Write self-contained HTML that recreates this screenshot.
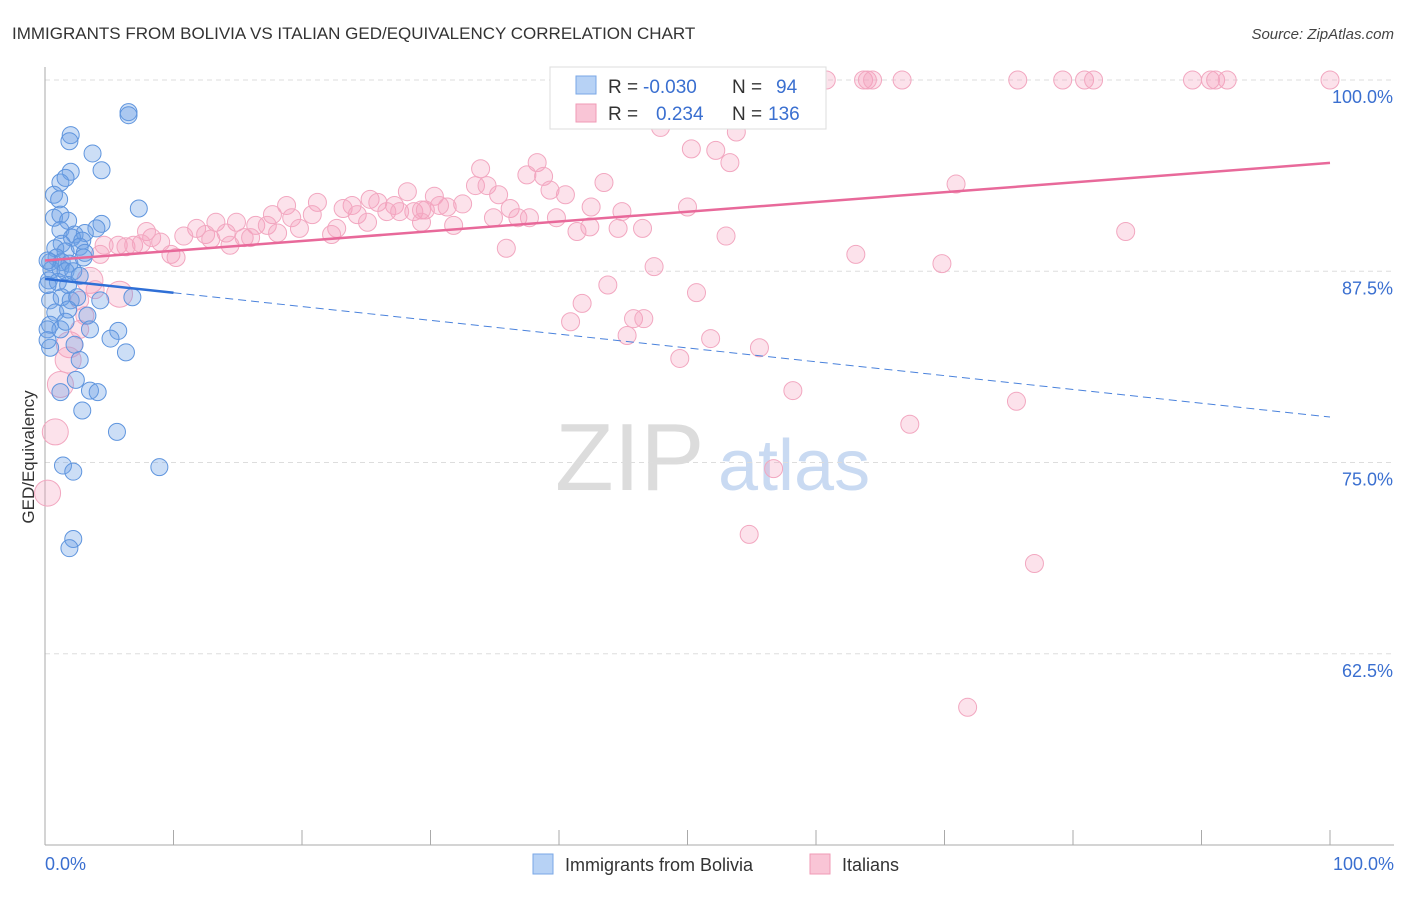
<!DOCTYPE html>
<html><head><meta charset="utf-8"><style>
body{margin:0;background:#fff;font-family:"Liberation Sans",sans-serif}
svg text{font-family:"Liberation Sans",sans-serif}
</style></head><body>
<svg id="chart" width="1406" height="892" viewBox="0 0 1406 892" xmlns="http://www.w3.org/2000/svg">
<text x="12" y="39" font-size="17" fill="#333">IMMIGRANTS FROM BOLIVIA VS ITALIAN GED/EQUIVALENCY CORRELATION CHART</text>
<text x="1394" y="39" font-size="15" fill="#444" text-anchor="end" font-style="italic">Source: ZipAtlas.com</text>
<g>
<text x="555" y="490" font-size="96" fill="#dcdcdc" font-family="Liberation Serif, serif">ZIP</text>
<text x="718" y="490" font-size="72" fill="#c9daf2">atlas</text>
</g>
<g id="grid"></g>
<g id="axes"></g>
<g id="points"></g>
<g id="lines"></g>
<text transform="translate(34,457) rotate(-90)" font-size="17" fill="#333" text-anchor="middle">GED/Equivalency</text>
<g>
<rect x="550" y="67" width="276" height="62" fill="#fff" stroke="#ddd"/>
<rect x="576" y="76" width="20" height="18" fill="#b7d2f5" stroke="#7aa7e6"/>
<rect x="576" y="104" width="20" height="18" fill="#f9c5d6" stroke="#f09ab6"/>
<text x="608" y="93" font-size="19" fill="#333">R =</text>
<text x="643" y="93" font-size="19" fill="#3a6fd0">-0.030</text>
<text x="732" y="93" font-size="19" fill="#333">N =</text>
<text x="776" y="93" font-size="19" fill="#3a6fd0">94</text>
<text x="608" y="120" font-size="19" fill="#333">R =</text>
<text x="656" y="120" font-size="19" fill="#3a6fd0">0.234</text>
<text x="732" y="120" font-size="19" fill="#333">N =</text>
<text x="768" y="120" font-size="19" fill="#3a6fd0">136</text>
</g>
<g>
<rect x="533" y="854" width="20" height="20" fill="#b7d2f5" stroke="#7aa7e6"/>
<text x="565" y="871" font-size="18" fill="#333">Immigrants from Bolivia</text>
<rect x="810" y="854" width="20" height="20" fill="#f9c5d6" stroke="#f09ab6"/>
<text x="842" y="871" font-size="18" fill="#333">Italians</text>
</g>
</svg>
<script>
const yTicks=[100,87.5,75,62.5];
const yTickLabels=["100.0%","87.5%","75.0%","62.5%"];
const xTickLabels=["0.0%","100.0%"];
const blueX=[6.5,6.5,2.0,1.9,3.7,2.0,4.4,1.2,1.6,0.7,1.1,7.3,0.7,1.2,1.8,4.4,1.2,4.0,2.3,3.1,2.1,2.9,1.3,0.8,1.6,2.7,3.1,0.9,0.4,1.3,1.9,3.0,0.5,1.2,1.6,2.2,0.3,1.0,1.8,2.7,0.4,1.3,2.0,2.5,6.8,0.8,1.8,3.3,0.4,1.2,1.6,5.7,5.1,0.4,2.3,6.3,2.7,2.4,1.2,3.5,4.1,2.9,5.6,1.4,2.2,8.9,2.2,1.9,0.2,0.2,0.2,0.2,3.5,4.3];
const blueY=[97.9,97.7,96.4,96.0,95.2,94.0,94.1,93.3,93.6,92.5,92.2,91.6,91.0,91.2,90.8,90.6,90.2,90.3,89.9,90.0,89.7,89.5,89.3,89.0,88.8,89.1,88.7,88.4,88.1,88.1,88.0,88.4,87.6,87.7,87.5,87.5,86.9,86.8,86.6,87.2,85.6,85.8,85.6,85.8,85.8,84.8,85.0,84.6,84.0,83.7,84.2,83.6,83.1,82.5,82.7,82.2,81.7,80.4,79.6,79.7,79.6,78.4,77.0,74.8,74.4,74.7,70.0,69.4,83.7,83.0,86.6,88.2,83.7,85.6];
const pinkX=[55.9,56.4,60.8,63.7,64.0,64.4,66.7,75.7,79.2,80.9,81.6,89.3,90.7,91.1,92.0,100,47.9,53.9,53.8,50.3,52.2,53.3,33.9,38.3,37.5,38.8,33.5,34.4,35.3,39.3,40.5,43.5,28.2,30.3,32.5,31.3,18.8,21.2,23.9,25.3,25.9,23.2,27.2,28.7,29.6,30.7,24.3,26.6,27.6,29.3,36.2,34.9,36.8,37.7,39.8,42.5,44.9,50.0,17.7,19.2,20.8,16.4,17.3,13.3,14.9,11.8,12.5,14.1,15.5,18.1,19.8,22.7,22.3,25.1,29.3,31.8,41.4,42.4,44.6,46.5,53.0,70.9,84.1,12.9,14.4,16.0,10.8,8.3,7.9,9.0,9.8,10.2,4.6,5.7,6.3,6.9,7.5,4.3,35.9,63.1,69.8,47.4,43.8,41.8,50.7,40.9,45.8,46.6,45.3,51.8,49.4,55.6,58.2,67.3,75.6,56.7,54.8,77.0,71.8,3.9,2.7,2.7,3.1];
const pinkY=[100,100,100,100,100,100,100,100,100,100,100,100,100,100,100,100,96.9,97.8,96.6,95.5,95.4,94.6,94.2,94.6,93.8,93.7,93.1,93.1,92.5,92.8,92.5,93.3,92.7,92.4,91.9,91.7,91.8,92.0,91.8,92.2,92.0,91.6,91.8,91.4,91.5,91.8,91.2,91.4,91.4,91.5,91.6,91.0,91.0,91.0,91.0,91.7,91.4,91.7,91.2,91.0,91.2,90.5,90.5,90.7,90.7,90.3,89.9,90.0,89.7,90.0,90.3,90.3,89.9,90.7,90.7,90.5,90.1,90.4,90.3,90.3,89.8,93.2,90.1,89.6,89.2,89.7,89.8,89.7,90.1,89.4,88.6,88.4,89.2,89.2,89.1,89.2,89.3,88.6,89.0,88.6,88.0,87.8,86.6,85.4,86.1,84.2,84.4,84.4,83.3,83.1,81.8,82.5,79.7,77.5,79.0,74.6,70.3,68.4,59.0,86.3,83.7,85.6,84.6];
const pinkBigX=[3.5,5.8,1.9,1.8,1.2,0.8,0.2];
const pinkBigY=[86.9,86.0,82.7,81.7,80.1,77.0,73.0];
const blueTrend=[87.0,77.97];
const pinkTrend=[88.2,94.58];

const X0=45,X1=1330,YTOP=80,PXPER=15.3;
function sx(v){return X0+(X1-X0)*v/100;}
function sy(v){return YTOP+(100-v)*PXPER;}
const NS="http://www.w3.org/2000/svg";
function mk(tag,attrs,parent){const e=document.createElementNS(NS,tag);for(const k in attrs)e.setAttribute(k,attrs[k]);parent.appendChild(e);return e;}
const grid=document.getElementById('grid'),axes=document.getElementById('axes'),pts=document.getElementById('points'),lines=document.getElementById('lines');
yTicks.forEach((t,i)=>{
  const l=mk('line',{x1:X0,x2:1394,y1:sy(t),y2:sy(t),stroke:'#ddd','stroke-dasharray':'5,4'},grid);
  
  
  const tx=mk('text',{x:1393,y:sy(t)+23,'font-size':18,fill:'#3a6fd0','text-anchor':'end'},grid);
  tx.textContent=yTickLabels[i];
  
  
});
const ya=mk('line',{x1:X0,x2:X0,y1:67,y2:845,stroke:'#aaa'},axes);


const xa=mk('line',{x1:X0,x2:1394,y1:845,y2:845,stroke:'#aaa'},axes);


for(let i=0;i<=10;i++){
  const t=mk('line',{x1:sx(i*10),x2:sx(i*10),y1:830,y2:845,stroke:'#aaa'},axes);
  
  
}
const xl0=mk('text',{x:45,y:870,'font-size':18,fill:'#3a6fd0'},axes);xl0.textContent=xTickLabels[0];


const xl1=mk('text',{x:1394,y:870,'font-size':18,fill:'#3a6fd0','text-anchor':'end'},axes);xl1.textContent=xTickLabels[1];


pinkBigX.forEach((x,i)=>{
  const c=mk('circle',{cx:sx(x),cy:sy(pinkBigY[i]),r:13,fill:'rgba(245,160,190,0.3)',stroke:'#f2a7c0','stroke-width':1},pts);
  
  
});
pinkX.forEach((x,i)=>{
  const c=mk('circle',{cx:sx(x),cy:sy(pinkY[i]),r:9,fill:'rgba(245,160,190,0.3)',stroke:'#f2a7c0','stroke-width':1},pts);
  
  
});
blueX.forEach((x,i)=>{
  const c=mk('circle',{cx:sx(x),cy:sy(blueY[i]),r:8.5,fill:'rgba(110,160,230,0.35)',stroke:'#5f95de','stroke-width':1},pts);
  
  
});
function tv(tr,x){return tr[0]+(tr[1]-tr[0])*x/100;}
const pl=mk('line',{x1:sx(0),y1:sy(tv(pinkTrend,0)),x2:sx(100),y2:sy(tv(pinkTrend,100)),stroke:'#e8699a','stroke-width':2.5},lines);


const bs=mk('line',{x1:sx(0),y1:sy(tv(blueTrend,0)),x2:sx(10),y2:sy(tv(blueTrend,10)),stroke:'#2f6fd6','stroke-width':2.5},lines);


const bd=mk('line',{x1:sx(10),y1:sy(tv(blueTrend,10)),x2:sx(100),y2:sy(tv(blueTrend,100)),stroke:'#4a82dc','stroke-width':1,'stroke-dasharray':'8,5'},lines);


</script>
</body></html>
